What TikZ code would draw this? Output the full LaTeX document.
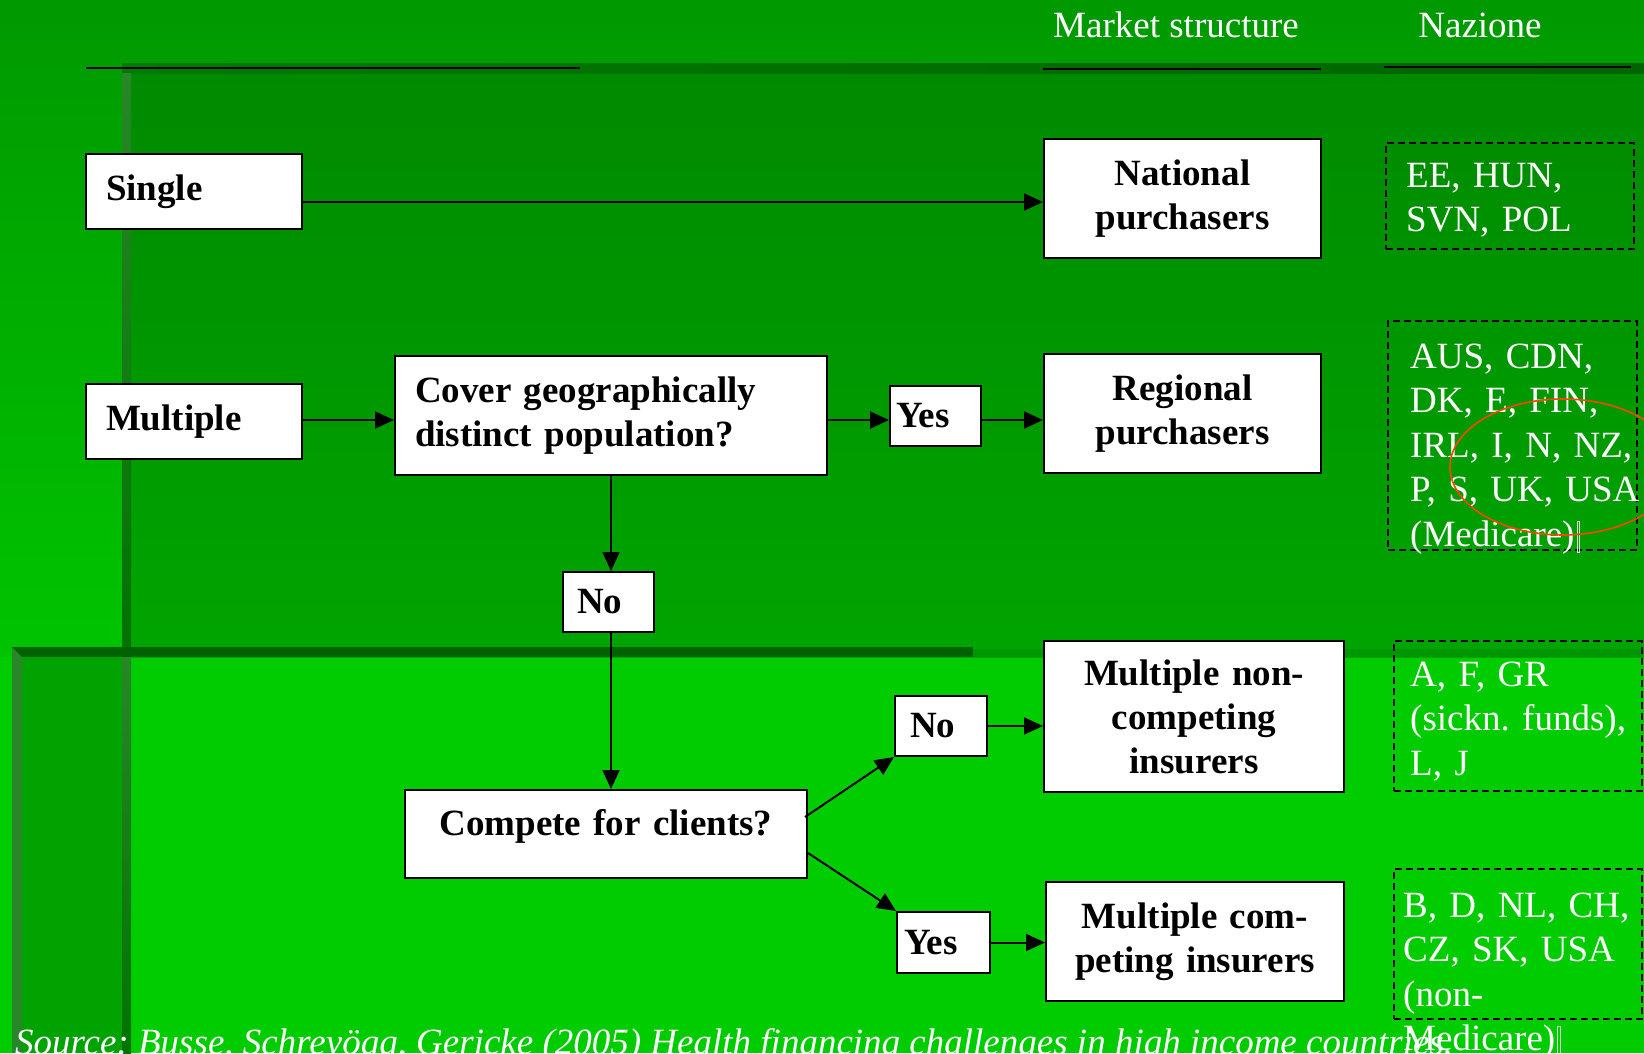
\documentclass[tikz,border=0pt]{standalone}
\usepackage{fontspec}
\setmainfont{Liberation Serif}
\usetikzlibrary{arrows.meta,calc}
\definecolor{pagetop}{RGB}{0,153,0}
\definecolor{pagebot}{RGB}{0,196,0}
\definecolor{lowgreen}{RGB}{0,204,0}
\definecolor{uptop}{RGB}{0,138,0}
\definecolor{upbot}{RGB}{0,165,0}
\definecolor{darkbandA}{RGB}{0,122,0}
\definecolor{darkbandB}{RGB}{0,100,0}
\definecolor{darkband}{RGB}{0,98,0}
\definecolor{edgegreen}{RGB}{0,150,0}
\definecolor{bevel}{RGB}{40,135,40}
\definecolor{bevelb}{RGB}{0,115,0}
\definecolor{panel}{RGB}{0,163,0}
\definecolor{ringred}{RGB}{255,69,0}
\newcommand{\glyphbox}{\kern2pt{\color{white!85!black}\fboxrule=0.8pt\fboxsep=0pt\fbox{\rule[-6pt]{0pt}{30pt}\hspace{2pt}}}}
\frenchspacing
\begin{document}
\begin{tikzpicture}[x=1pt,y=-1pt,
  box/.style={draw=black, line width=2pt, fill=white, inner sep=0pt, text=black,
    font=\fontsize{37}{44}\selectfont\bfseries},
  cbox/.style={draw=black, line width=2pt, dash pattern=on 7pt off 4pt, inner sep=0pt},
  ctext/.style={text=white, inner sep=0pt, anchor=base west, text width=240pt, align=left,
    font=\fontsize{37}{44.5}\selectfont},
  htext/.style={text=white, inner sep=0pt, anchor=base, font=\fontsize{37}{44}\selectfont},
  arr/.style={draw=black, line width=2pt, -{Triangle[length=19pt,width=17pt]}},
  hline/.style={draw=black, line width=2.5pt}]
\useasboundingbox (0,0) rectangle (1644,1053);
\clip (0,0) rectangle (1644,1053);
% background
\shade[top color=pagetop, bottom color=pagebot] (0,0) rectangle (1644,657);
\fill[lowgreen] (0,657) rectangle (1644,1053);
\shade[top color=uptop, bottom color=upbot] (131,73) rectangle (1644,657);
\shade[left color=darkbandA, right color=darkbandB] (122,63) rectangle (1644,73);
\shade[top color=bevel, bottom color=bevelb] (122,73) rectangle (131,647);
\fill[edgegreen] (973,649) rectangle (1644,657);
\fill[panel] (12,657) rectangle (131,1053);
\fill[darkband] (12,647) rectangle (973,657);
\fill[bevel] (12,647) -- (22,657) -- (22,1053) -- (12,1053) -- cycle;
\shade[top color=bevel, bottom color=bevelb] (122,657) rectangle (131,1053);
% header
\node[htext] (hms) at (1176,37) {Market structure};
\node[htext] (hnaz) at (1480,37) {Nazione};
\draw[hline] (86,68) -- (580,68);
\draw[hline] (1043,69) -- (1321,69);
\draw[hline] (1384,67) -- (1631,67);
% boxes
\node[box, minimum width=216pt, minimum height=75pt, text width=176pt, align=left] (single) at (194,191.5) {Single};
\node[box, minimum width=216pt, minimum height=75pt, text width=176pt, align=left] (multiple) at (194,421.5) {Multiple};
\node[box, minimum width=432pt, minimum height=119pt, text width=392pt, align=left] (cover) at (611,415.5) {Cover geographically\\distinct population?};
\node[box, minimum width=91pt, minimum height=60pt, text width=79pt, align=left] (yes1) at (935.5,416) {Yes};
\node[box, minimum width=277pt, minimum height=119pt, text width=257pt, align=center] (natl) at (1182.5,198.5) {National\\purchasers};
\node[box, minimum width=277pt, minimum height=119pt, text width=257pt, align=center] (regional) at (1182.5,413.5) {Regional\\purchasers};
\node[box, minimum width=91pt, minimum height=60pt, text width=63pt, align=left] (no1) at (608.5,602) {No};
\node[box, minimum width=402pt, minimum height=88pt, text width=382pt, align=center, text depth=23pt] (compete) at (606,834) {Compete for clients?};
\node[box, minimum width=92pt, minimum height=60pt, text width=62pt, align=left] (no2) at (941,726) {No};
\node[box, minimum width=93pt, minimum height=61pt, text width=79pt, align=left] (yes2) at (943.5,942.5) {Yes};
\node[box, minimum width=300pt, minimum height=151pt, text width=280pt, align=center] (mnc) at (1194,716.5) {Multiple non-\\competing\\insurers};
\node[box, minimum width=298pt, minimum height=119pt, text width=278pt, align=center] (mc) at (1195,941.5) {Multiple com-\\peting insurers};
% country boxes
\node[cbox, minimum width=248pt, minimum height=106pt] (ee) at (1510,196) {};
\node[cbox, minimum width=249pt, minimum height=229pt] (aus) at (1512.5,435.5) {};
\node[cbox, minimum width=248pt, minimum height=150pt] (afgr) at (1518,716) {};
\node[cbox, minimum width=248pt, minimum height=150pt] (bd) at (1518,944) {};
\node[ctext] (eet) at (1406,187) {EE, HUN,\\SVN, POL};
\node[ctext] (aust) at (1410,368) {AUS, CDN,\\DK, E, FIN,\\IRL, I, N, NZ,\\P, S, UK, USA\\(Medicare)\glyphbox};
\node[ctext] (afgrt) at (1410,686) {A, F, GR\\(sickn. funds),\\L, J};
\node[ctext] (bdt) at (1403,917) {B, D, NL, CH,\\CZ, SK, USA\\(non-\\Medicare)\glyphbox};
% red ring
\draw[ringred, line width=1.6pt] (1563,467) ellipse [x radius=113, y radius=68];
% connectors
\coordinate (ya) at (0,202);
\coordinate (yb) at (0,420);
\coordinate (xc) at (611,0);
\draw[arr] (single.east |- ya) -- (natl.west |- ya);
\draw[arr] (multiple.east |- yb) -- (cover.west |- yb);
\draw[arr] (cover.east |- yb) -- (yes1.west |- yb);
\draw[arr] (yes1.east |- yb) -- (regional.west |- yb);
\draw[arr] (cover.south -| xc) -- (no1.north -| xc);
\draw[arr] (no1.south -| xc) -- (compete.north -| xc);
\draw[arr] ($(compete.east)+(-3,-17)$) -- (no2.south west);
\draw[arr] ($(compete.east)+(0,19)$) -- (yes2.north west);
\draw[arr] (no2.east) -- (mnc.west |- no2.east);
\draw[arr] (yes2.east) -- (mc.west |- yes2.east);
% source
\node[text=white, inner sep=0pt, anchor=base west, font=\fontsize{37}{44}\selectfont\itshape] (src) at (15,1054) {Source: Busse, Schreyögg, Gericke (2005) Health financing challenges in high income countries.};
\end{tikzpicture}
\end{document}
